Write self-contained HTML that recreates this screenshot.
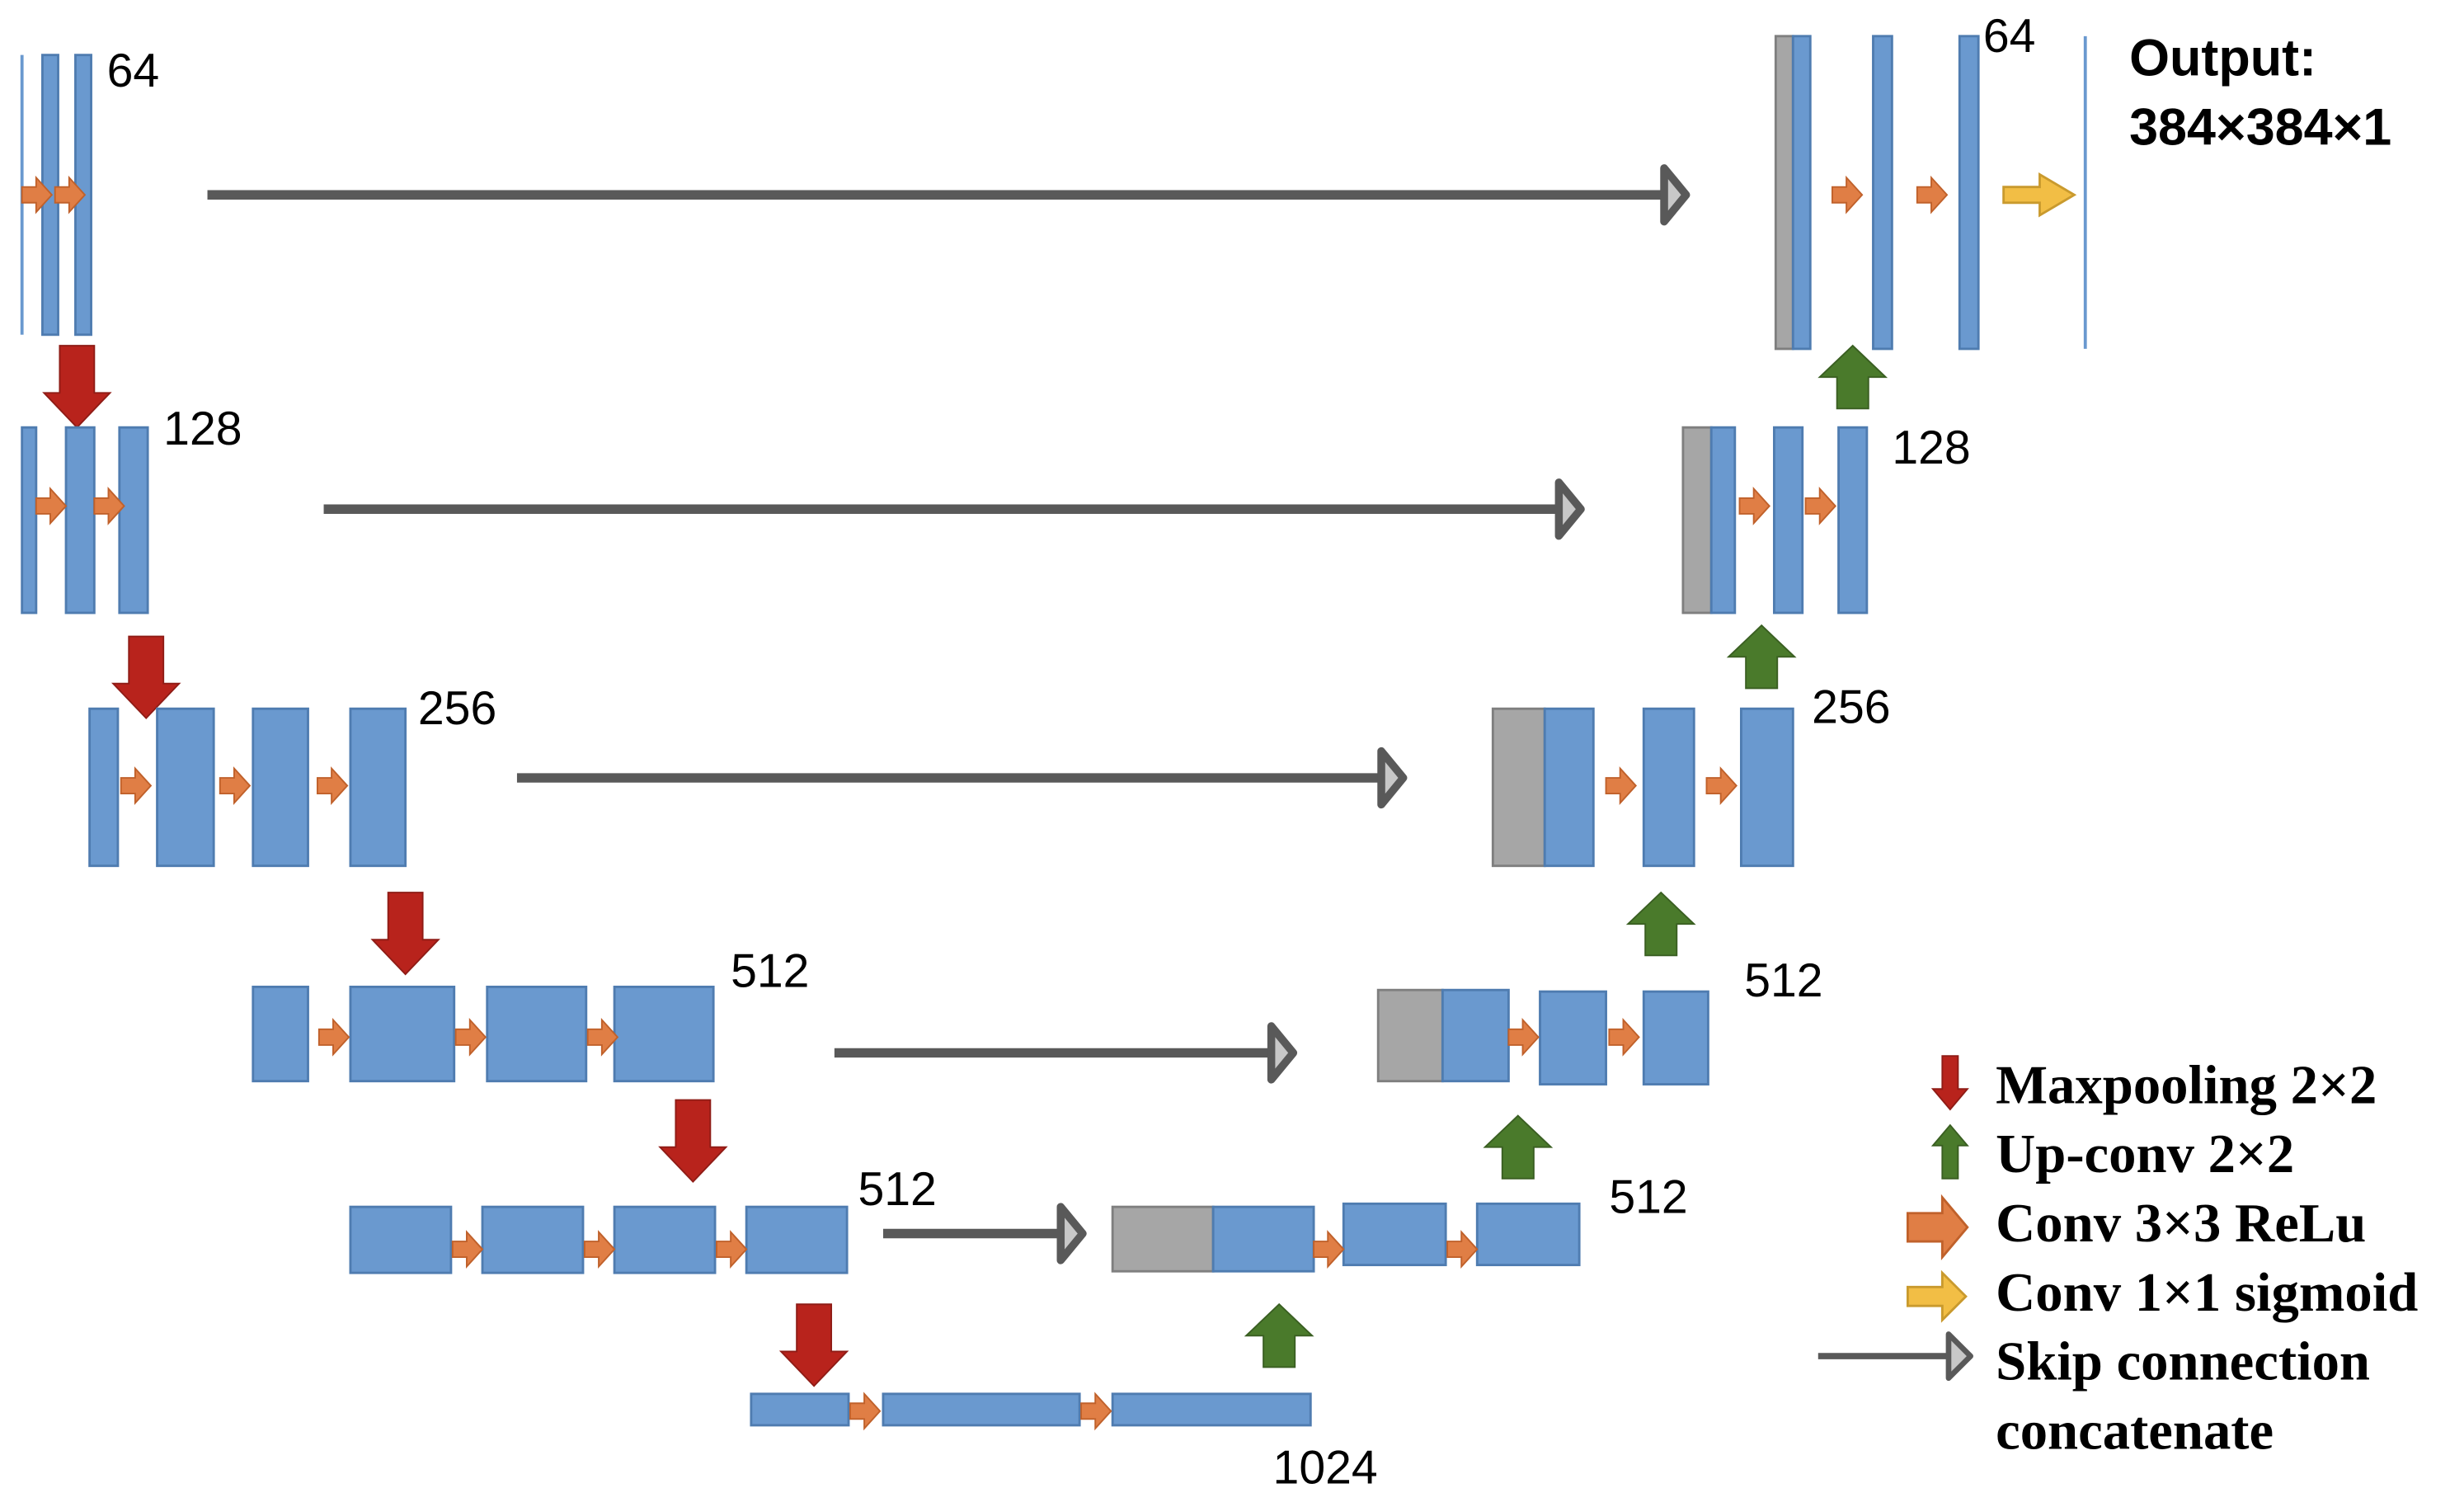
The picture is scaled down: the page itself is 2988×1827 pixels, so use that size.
<!DOCTYPE html>
<html><head><meta charset="utf-8"><style>
html,body{margin:0;padding:0;background:#fff;}
svg{display:block;}
.n{font-family:"Liberation Sans",sans-serif;font-size:30px;fill:#000;}
.o{font-family:"Liberation Sans",sans-serif;font-size:33px;font-weight:bold;fill:#000;}
.l{font-family:"Liberation Serif",serif;font-size:35px;font-weight:bold;fill:#000;}
.b{fill:#6A99CF;stroke:#4F7CB0;stroke-width:1.5;}
.g{fill:#A6A6A6;stroke:#7F7F7F;stroke-width:1.5;}
.sk{stroke:#595959;stroke-width:6;fill:none;}
</style></head><body>
<svg width="2988" height="1827" viewBox="0 0 1568 959" preserveAspectRatio="none" xmlns="http://www.w3.org/2000/svg">
<defs>
<path id="oa" d="M0,-5 H9 V-11 L19,0 L9,11 V5 H0 Z" fill="#E07E45" stroke="#C0612B" stroke-width="1"/>
<path id="rd" d="M-11,0 H11 V30 H21 L0,52 L-21,30 H-11 Z" fill="#B8231C" stroke="#8f1c16" stroke-width="1"/>
<path id="gu" d="M0,0 L21,20 H10 V40 H-10 V20 H-21 Z" fill="#4A7A2B" stroke="#3a5f22" stroke-width="1"/>
<path id="sh" d="M-14,-17 L0,0 L-14,17 Z" fill="#C8C8C8" stroke="#595959" stroke-width="5" stroke-linejoin="round"/>
</defs>

<!-- Row 1 -->
<line x1="14" y1="35" x2="14" y2="213" stroke="#6A99CF" stroke-width="2"/>
<rect class="b" x="27" y="35" width="10" height="178"/>
<rect class="b" x="48" y="35" width="10" height="178"/>
<use href="#oa" x="14" y="124"/><use href="#oa" x="35" y="124"/>
<text class="n" x="68" y="55">64</text>
<line class="sk" x1="132" y1="124" x2="1060" y2="124"/><use href="#sh" x="1073" y="124"/>

<rect class="g" x="1130" y="23" width="11" height="199"/>
<rect class="b" x="1141" y="23" width="11" height="199"/>
<rect class="b" x="1192" y="23" width="12" height="199"/>
<rect class="b" x="1247" y="23" width="12" height="199"/>
<line x1="1327" y1="23" x2="1327" y2="222" stroke="#6A99CF" stroke-width="2"/>
<use href="#oa" x="1166" y="124"/><use href="#oa" x="1220" y="124"/>
<path d="M1275,119 H1298 V111 L1320,124 L1298,137 V129 H1275 Z" fill="#F2BE45" stroke="#C99A2E" stroke-width="1.5"/>
<text class="n" x="1262" y="33">64</text>
<text class="o" x="1355" y="48">Output:</text>
<text class="o" x="1355" y="92">384×384×1</text>
<use href="#gu" x="1179" y="220"/>

<!-- Row 2 -->
<use href="#rd" x="49" y="220"/>
<rect class="b" x="14" y="272" width="9" height="118"/>
<rect class="b" x="42" y="272" width="18" height="118"/>
<rect class="b" x="76" y="272" width="18" height="118"/>
<use href="#oa" x="23" y="322"/><use href="#oa" x="60" y="322"/>
<text class="n" x="104" y="283">128</text>
<line class="sk" x1="206" y1="324" x2="993" y2="324"/><use href="#sh" x="1006" y="324"/>
<rect class="g" x="1071" y="272" width="18" height="118"/>
<rect class="b" x="1089" y="272" width="15" height="118"/>
<rect class="b" x="1129" y="272" width="18" height="118"/>
<rect class="b" x="1170" y="272" width="18" height="118"/>
<use href="#oa" x="1107" y="322"/><use href="#oa" x="1149" y="322"/>
<text class="n" x="1204" y="295">128</text>
<use href="#gu" x="1121" y="398"/>

<!-- Row 3 -->
<use href="#rd" x="93" y="405"/>
<rect class="b" x="57" y="451" width="18" height="100"/>
<rect class="b" x="100" y="451" width="36" height="100"/>
<rect class="b" x="161" y="451" width="35" height="100"/>
<rect class="b" x="223" y="451" width="35" height="100"/>
<use href="#oa" x="77" y="500"/><use href="#oa" x="140" y="500"/><use href="#oa" x="202" y="500"/>
<text class="n" x="266" y="461">256</text>
<line class="sk" x1="329" y1="495" x2="880" y2="495"/><use href="#sh" x="893" y="495"/>
<rect class="g" x="950" y="451" width="33" height="100"/>
<rect class="b" x="983" y="451" width="31" height="100"/>
<rect class="b" x="1046" y="451" width="32" height="100"/>
<rect class="b" x="1108" y="451" width="33" height="100"/>
<use href="#oa" x="1022" y="500"/><use href="#oa" x="1086" y="500"/>
<text class="n" x="1153" y="460">256</text>
<use href="#gu" x="1057" y="568"/>

<!-- Row 4 -->
<use href="#rd" x="258" y="568"/>
<rect class="b" x="161" y="628" width="35" height="60"/>
<rect class="b" x="223" y="628" width="66" height="60"/>
<rect class="b" x="310" y="628" width="63" height="60"/>
<rect class="b" x="391" y="628" width="63" height="60"/>
<use href="#oa" x="203" y="660"/><use href="#oa" x="290" y="660"/><use href="#oa" x="374" y="660"/>
<text class="n" x="465" y="628">512</text>
<line class="sk" x1="531" y1="670" x2="810" y2="670"/><use href="#sh" x="823" y="670"/>
<rect class="g" x="877" y="630" width="41" height="58"/>
<rect class="b" x="918" y="630" width="42" height="58"/>
<rect class="b" x="980" y="631" width="42" height="59"/>
<rect class="b" x="1046" y="631" width="41" height="59"/>
<use href="#oa" x="960" y="660"/><use href="#oa" x="1024" y="660"/>
<text class="n" x="1110" y="634">512</text>
<use href="#gu" x="966" y="710"/>

<!-- Row 5 -->
<use href="#rd" x="441" y="700"/>
<rect class="b" x="223" y="768" width="64" height="42"/>
<rect class="b" x="307" y="768" width="64" height="42"/>
<rect class="b" x="391" y="768" width="64" height="42"/>
<rect class="b" x="475" y="768" width="64" height="42"/>
<use href="#oa" x="288" y="795"/><use href="#oa" x="372" y="795"/><use href="#oa" x="456" y="795"/>
<text class="n" x="546" y="767">512</text>
<line class="sk" x1="562" y1="785" x2="676" y2="785"/><use href="#sh" x="689" y="785"/>
<rect class="g" x="708" y="768" width="64" height="41"/>
<rect class="b" x="772" y="768" width="64" height="41"/>
<rect class="b" x="855" y="766" width="65" height="39"/>
<rect class="b" x="940" y="766" width="65" height="39"/>
<use href="#oa" x="836" y="795"/><use href="#oa" x="921" y="795"/>
<text class="n" x="1024" y="772">512</text>
<use href="#gu" x="814" y="830"/>

<!-- Row 6 -->
<use href="#rd" x="518" y="830"/>
<rect class="b" x="478" y="887" width="62" height="20"/>
<rect class="b" x="562" y="887" width="125" height="20"/>
<rect class="b" x="708" y="887" width="126" height="20"/>
<use href="#oa" x="541" y="898"/><use href="#oa" x="688" y="898"/>
<text class="n" x="810" y="944">1024</text>

<!-- Legend -->
<path d="M1236,672 H1246 V693 H1252 L1241,706 L1230,693 H1236 Z" fill="#B8231C" stroke="#8f1c16" stroke-width="1"/>
<text class="l" x="1270" y="702">Maxpooling 2×2</text>
<path d="M1241,716 L1252,729 H1246 V750 H1236 V729 H1230 Z" fill="#4A7A2B" stroke="#3a5f22" stroke-width="1"/>
<text class="l" x="1270" y="746">Up-conv 2×2</text>
<path d="M1214,772 H1236 V762 L1252,781 L1236,800 V790 H1214 Z" fill="#E07E45" stroke="#C0612B" stroke-width="1.5"/>
<text class="l" x="1270" y="790">Conv 3×3 ReLu</text>
<path d="M1214,819 H1236 V810 L1251,825 L1236,840 V831 H1214 Z" fill="#F2BE45" stroke="#C99A2E" stroke-width="1.5"/>
<text class="l" x="1270" y="834">Conv 1×1 sigmoid</text>
<line x1="1157" y1="863" x2="1240" y2="863" stroke="#595959" stroke-width="4"/>
<path d="M1240,849 L1254,863 L1240,877 Z" fill="#C8C8C8" stroke="#595959" stroke-width="3.5" stroke-linejoin="round"/>
<text class="l" x="1270" y="878">Skip connection</text>
<text class="l" x="1270" y="922">concatenate</text>
</svg>
</body></html>
